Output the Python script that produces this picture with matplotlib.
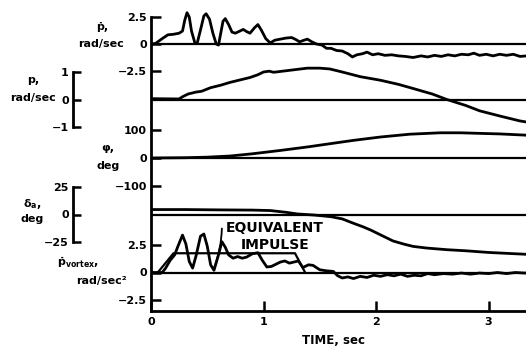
import matplotlib
matplotlib.use("Agg")
import matplotlib.pyplot as plt

plt.rcParams['font.family'] = ['DejaVu Sans']
plt.rcParams['font.weight'] = 'bold'
plt.rcParams['mathtext.fontset'] = 'dejavusans'

# ---- roll acceleration, rad/sec^2 (p-dot) ----
pdot_t = [0.00, 0.04, 0.10, 0.15, 0.20, 0.25, 0.28, 0.30, 0.32, 0.34, 0.36, 0.39, 0.41,
          0.44, 0.47, 0.49, 0.52, 0.55, 0.58, 0.60, 0.62, 0.64, 0.66, 0.69, 0.72, 0.75,
          0.79, 0.82, 0.85, 0.88, 0.92, 0.95, 0.98, 1.02, 1.06, 1.10, 1.15, 1.20, 1.25,
          1.29, 1.32, 1.36, 1.39, 1.43, 1.47, 1.52, 1.56, 1.60, 1.65, 1.70, 1.75, 1.79,
          1.83, 1.88, 1.92, 1.97, 2.02, 2.08, 2.14, 2.20, 2.26, 2.33, 2.40, 2.46, 2.52,
          2.58, 2.64, 2.70, 2.76, 2.82, 2.87, 2.92, 2.98, 3.04, 3.10, 3.16, 3.22, 3.28,
          3.34, 3.40]
pdot_v = [0.0, 0.05, 0.5, 0.85, 0.9, 1.0, 1.2, 2.2, 2.9, 2.5, 1.2, 0.1, 0.05,
          1.3, 2.6, 2.8, 2.3, 1.0, 0.0, -0.1, 1.0, 2.1, 2.35, 1.8, 1.1, 1.0,
          1.2, 1.35, 1.15, 1.0, 1.5, 1.8, 1.3, 0.5, 0.1, 0.35, 0.45, 0.55, 0.6,
          0.4, 0.2, 0.35, 0.45, 0.2, 0.0, -0.1, -0.4, -0.4, -0.6, -0.65, -0.9, -1.2,
          -1.0, -0.9, -0.75, -1.0, -0.9, -1.05, -1.0, -1.1, -1.15, -1.25, -1.1, -1.2, -1.05,
          -1.15, -1.0, -1.1, -0.95, -1.0, -0.85, -1.05, -0.95, -1.1, -0.95, -1.05, -0.95, -1.15,
          -1.1, -1.05]

# ---- roll rate, rad/sec ----
p_t = [0.00, 0.25, 0.28, 0.33, 0.40, 0.45, 0.53, 0.62, 0.70, 0.80, 0.88, 0.95, 1.00,
       1.05, 1.09, 1.15, 1.25, 1.39, 1.50, 1.59, 1.70, 1.86, 2.04, 2.20, 2.33, 2.50,
       2.63, 2.80, 2.92, 3.10, 3.28, 3.40]
p_v = [0.03, 0.02, 0.10, 0.20, 0.27, 0.30, 0.43, 0.52, 0.62, 0.72, 0.80, 0.90, 1.00,
       1.03, 0.99, 1.02, 1.07, 1.14, 1.14, 1.11, 1.00, 0.83, 0.70, 0.55, 0.40, 0.20,
       0.00, -0.22, -0.41, -0.60, -0.78, -0.86]

# ---- bank angle, deg ----
phi_t = [0.00, 0.30, 0.50, 0.70, 0.90, 1.15, 1.40, 1.59, 1.80, 2.04, 2.30, 2.57, 2.75,
         2.92, 3.10, 3.31, 3.40]
phi_v = [0, 1, 3, 7, 15, 27, 40, 51, 63, 75, 85, 90, 90, 88, 86, 82, 80]

# ---- aileron deflection, deg ----
da_t = [0.00, 0.30, 0.60, 0.90, 1.06, 1.20, 1.30, 1.45, 1.60, 1.70, 1.80, 1.88, 1.95,
        2.00, 2.05, 2.10, 2.15, 2.25, 2.33, 2.45, 2.63, 2.80, 3.00, 3.20, 3.40]
da_v = [4.5, 4.5, 4.2, 4.0, 3.6, 2.0, 0.5, -0.5, -2.0, -4.0, -8.0, -11.0, -14.0,
        -16.5, -19.0, -21.5, -24.0, -27.0, -29.0, -30.5, -32.0, -33.0, -34.5, -35.5, -36.5]

# ---- vortex-induced roll acceleration, rad/sec^2 ----
pv_t = [0.00, 0.10, 0.13, 0.17, 0.21, 0.24, 0.28, 0.31, 0.34, 0.37, 0.40, 0.44, 0.47,
        0.50, 0.53, 0.56, 0.60, 0.63, 0.66, 0.69, 0.73, 0.77, 0.81, 0.85, 0.90, 0.95,
        0.99, 1.03, 1.07, 1.11, 1.15, 1.19, 1.23, 1.27, 1.31, 1.35, 1.40, 1.44, 1.50,
        1.56, 1.62, 1.66, 1.70, 1.75, 1.80, 1.86, 1.92, 1.98, 2.04, 2.10, 2.16, 2.22,
        2.28, 2.34, 2.40, 2.46, 2.52, 2.60, 2.68, 2.76, 2.84, 2.92, 3.00, 3.08, 3.16,
        3.24, 3.32, 3.40]
pv_v = [0.0, 0.0, 0.4, 1.1, 1.6, 2.4, 3.4, 2.6, 1.0, 0.4, 1.5, 3.3, 3.5,
        2.4, 0.7, 0.2, 1.6, 2.8, 2.3, 1.6, 1.3, 1.45, 1.3, 1.4, 1.7, 1.8,
        1.1, 0.5, 0.55, 0.75, 0.95, 1.05, 0.85, 0.95, 1.05, 0.45, 0.7, 0.65, 0.25,
        0.15, 0.1, -0.3, -0.5, -0.4, -0.55, -0.35, -0.45, -0.25, -0.35, -0.2, -0.3, -0.15,
        -0.35, -0.25, -0.3, -0.1, -0.2, -0.1, -0.15, -0.05, -0.15, -0.05, -0.1, 0.0, -0.1,
        0.0, -0.05, 0.0]

# equivalent impulse (trapezoid)
imp_t = [0.06, 0.20, 1.28, 1.37]
imp_v = [0.0, 1.75, 1.75, 0.0]

# tick values and labels
pdot_ticks, pdot_labels = [2.5, 0, -2.5], ["2.5", "0", "\u22122.5"]
p_ticks, p_labels = [1, 0, -1], ["1", "0", "\u22121"]
phi_ticks, phi_labels = [100, 0, -100], ["100", "0", "\u2212100"]
da_ticks, da_labels = [25, 0, -25], ["25", "0", "\u221225"]
pv_ticks, pv_labels = [2.5, 0, -2.5], ["2.5", "0", "\u22122.5"]
time_ticks, time_labels = [0, 1, 2, 3], ["0", "1", "2", "3"]

# ---- layout (pixels) ----
W, H = 526, 351
X0, X1 = 151, 526          # t = 0 at X0
X_SIDE = 73                # secondary scale spine
PX_PER_SEC = 112.5
Y_TOP, Y_BOT = 4, 311
T_MAX = (X1 - X0) / PX_PER_SEC

fig = plt.figure(figsize=(W / 100, H / 100), dpi=100)
fig.patch.set_facecolor('white')

CURVE_LW = 2.0
BASE_LW = 1.6
SPINE_LW = 2.0


def strip_axes(zero_px, px_per_unit):
    ax = fig.add_axes([X0 / W, 1 - Y_BOT / H, (X1 - X0) / W, (Y_BOT - Y_TOP) / H])
    ax.set_xlim(0, T_MAX)
    ax.set_ylim(-(Y_BOT - zero_px) / px_per_unit, (zero_px - Y_TOP) / px_per_unit)
    ax.patch.set_visible(False)
    for s in ax.spines.values():
        s.set_visible(False)
    ax.set_xticks([])
    ax.set_yticks([])
    ax.axhline(0, color='black', lw=BASE_LW, zorder=2)
    return ax


def main_ticks(ax, ticks, labels):
    ax.set_yticks(ticks)
    ax.set_yticklabels(labels)
    ax.tick_params(axis='y', direction='in', length=7, width=1.8, pad=3,
                   labelsize=8, left=True)


def side_axis(ax, ticks, labels):
    sp = ax.spines['left']
    sp.set_visible(True)
    sp.set_position(('axes', -(X0 - X_SIDE) / (X1 - X0)))
    sp.set_bounds(min(ticks), max(ticks))
    sp.set_linewidth(SPINE_LW)
    ax.set_yticks(ticks)
    ax.set_yticklabels(labels)
    ax.tick_params(axis='y', direction='in', length=6, width=1.8, pad=3,
                   labelsize=8, left=True)


# p-dot strip
ax_pd = strip_axes(44, 27.0 / 2.5)
ax_pd.plot(pdot_t, pdot_v, color='black', lw=CURVE_LW)
main_ticks(ax_pd, pdot_ticks, pdot_labels)

# p strip
ax_p = strip_axes(99.5, 27.5)
ax_p.plot(p_t, p_v, color='black', lw=CURVE_LW)
side_axis(ax_p, p_ticks, p_labels)

# phi strip
ax_phi = strip_axes(158, 28.0 / 100)
ax_phi.plot(phi_t, phi_v, color='black', lw=CURVE_LW)
main_ticks(ax_phi, phi_ticks, phi_labels)

# aileron strip
ax_da = strip_axes(214.5, 27.5 / 25)
ax_da.plot(da_t, da_v, color='black', lw=CURVE_LW)
side_axis(ax_da, da_ticks, da_labels)

# p-dot vortex strip (also carries the main frame)
ax_pv = strip_axes(272.5, 27.5 / 2.5)
ax_pv.plot(pv_t, pv_v, color='black', lw=CURVE_LW)
ax_pv.plot(imp_t, imp_v, color='black', lw=1.6)
main_ticks(ax_pv, pv_ticks, pv_labels)

left = ax_pv.spines['left']
left.set_visible(True)
left.set_linewidth(SPINE_LW)
top_val = (272.5 - 17) / (27.5 / 2.5)
left.set_bounds(ax_pv.get_ylim()[0], top_val)

bottom = ax_pv.spines['bottom']
bottom.set_visible(True)
bottom.set_linewidth(SPINE_LW)
ax_pv.set_xticks(time_ticks)
ax_pv.set_xticklabels(time_labels)
ax_pv.tick_params(axis='x', direction='in', length=7, width=1.8, pad=4,
                  labelsize=8, bottom=True)
ax_pv.set_xlabel("TIME, sec", fontsize=8.5, fontweight='bold')
ax_pv.xaxis.set_label_coords((333 - X0) / (X1 - X0), -(334 - Y_BOT) / (Y_BOT - Y_TOP))

ax_pv.annotate("", xy=(0.55, 0.15), xytext=(0.63, 4.25),
               arrowprops=dict(arrowstyle='-', color='black', lw=1.3,
                               connectionstyle='arc3,rad=-0.1'))
ax_pv.text(1.10, 3.25, "EQUIVALENT\nIMPULSE", ha='center', va='center',
           fontsize=10, fontweight='bold', linespacing=1.3)


def label(xp, yp, s, **kw):
    fig.text(xp / W, 1 - yp / H, s, ha='center', va='center', fontsize=8,
             fontweight='bold', **kw)


label(102, 27, "\u1e57,")
label(101, 44, "rad/sec")
label(33, 80, "p,")
label(33, 98, "rad/sec")
label(108, 148, "\u03c6,")
label(108, 166, "deg")
label(32, 204, r"$\mathbf{\delta_a}$,")
label(32, 219, "deg")
label(78, 263, r"$\mathbf{\dot{p}_{vortex}}$,")
label(101, 281, "rad/sec\u00b2")

fig.savefig("out.png", dpi=100, facecolor='white')
